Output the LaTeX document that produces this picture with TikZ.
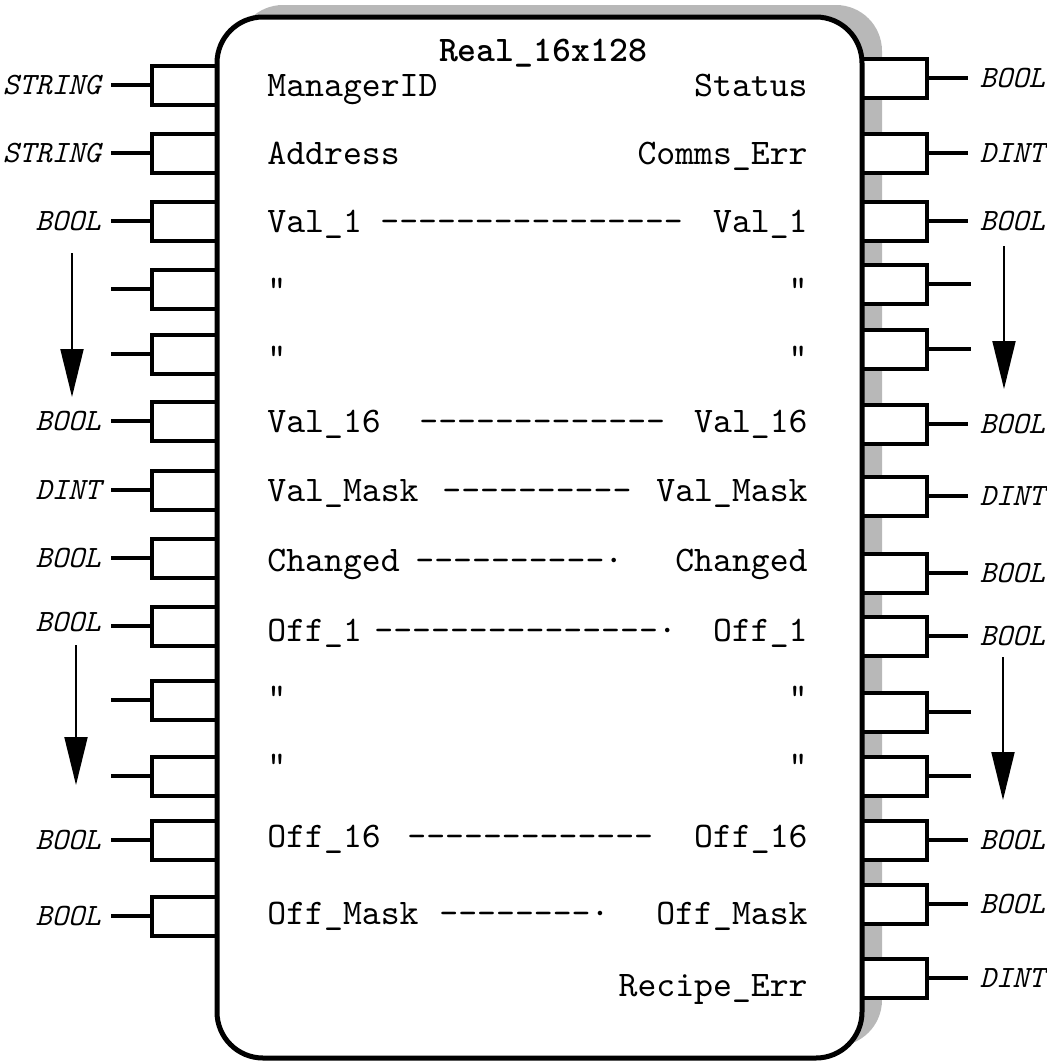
\documentclass[tikz,border=0pt]{standalone}
\usepackage{fontspec}
\setmonofont{lmmono10-regular.otf}[
  ItalicFont=lmmono10-italic.otf,
  BoldFont=lmmonolt10-bold.otf]
\usetikzlibrary{arrows.meta,positioning,shadows}
\tikzset{
  block/.style={
    fill=white,
    rounded corners=23pt,
    minimum width=322.5pt,
    minimum height=520.5pt,
    inner sep=0pt,
    outer sep=0pt,
    drop shadow={shadow xshift=10pt, shadow yshift=6pt, fill=black!28, opacity=1},
  },
  edge/.style={line width=2.5pt, rounded corners=23pt},
  pinbox/.style={draw, line width=2pt, fill=white, inner sep=0pt,
    minimum width=32.5pt, minimum height=19.5pt},
  wire/.style={line width=2pt},
  ltype/.style={font=\ttfamily\itshape\fontsize{15.5}{18}\selectfont,
    inner xsep=5pt, inner ysep=0pt},
  rtype/.style={ltype, inner xsep=6pt},
  sig/.style={font=\ttfamily\fontsize{18}{21}\selectfont, inner sep=0pt},
  lsig/.style={sig, anchor=base west},
  rsig/.style={sig, anchor=base east},
  ttl/.style={font=\ttfamily\bfseries\fontsize{18}{21}\selectfont, inner sep=0pt, anchor=base},
  flow/.style={-{Triangle[length=24pt, width=11.5pt]}, line width=1pt},
}

\begin{document}
\begin{tikzpicture}[x=0.5pt, y=-0.5pt, node distance=19.5pt]
  \useasboundingbox (0,0) rectangle (1046,1061);

  % function block
  \node[block] (blk) at (539.5,537.5) {};

  % input pins
  \node[pinbox] (lp1) at (184.5,85) {};
  \node[pinbox] (lp2) at (184.5,153) {};
  \node[pinbox] (lp3) at (184.5,221) {};
  \node[pinbox] (lp4) at (184.5,289) {};
  \node[pinbox] (lp5) at (184.5,354) {};
  \node[pinbox] (lp6) at (184.5,421) {};
  \node[pinbox] (lp7) at (184.5,490) {};
  \node[pinbox] (lp8) at (184.5,558) {};
  \node[pinbox] (lp9) at (184.5,626) {};
  \node[pinbox] (lp10) at (184.5,700) {};
  \node[pinbox] (lp11) at (184.5,776) {};
  \node[pinbox] (lp12) at (184.5,840) {};
  \node[pinbox] (lp13) at (184.5,916) {};

  % output pins
  \node[pinbox] (rp1) at (894,78) {};
  \node[pinbox] (rp2) at (894,153) {};
  \node[pinbox] (rp3) at (894,221) {};
  \node[pinbox] (rp4) at (894,284) {};
  \node[pinbox] (rp5) at (894,349) {};
  \node[pinbox] (rp6) at (894,424) {};
  \node[pinbox] (rp7) at (894,496) {};
  \node[pinbox] (rp8) at (894,573) {};
  \node[pinbox] (rp9) at (894,636) {};
  \node[pinbox] (rp10) at (894,712) {};
  \node[pinbox] (rp11) at (894,776) {};
  \node[pinbox] (rp12) at (894,840) {};
  \node[pinbox] (rp13) at (894,904) {};
  \node[pinbox] (rp14) at (894,978) {};

  \draw[edge] (blk.north west) rectangle (blk.south east);

  % input types
  \node[ltype, left=of lp1] (lt1) {STRING};
  \node[ltype, left=of lp2] (lt2) {STRING};
  \node[ltype, left=of lp3] (lt3) {BOOL};
  \coordinate[left=of lp4] (lt4);
  \coordinate[left=of lp5] (lt5);
  \node[ltype, left=of lp6] (lt6) {BOOL};
  \node[ltype, left=of lp7] (lt7) {DINT};
  \node[ltype, left=of lp8] (lt8) {BOOL};
  \node[ltype, left=of lp9, yshift=2pt] (lt9) {BOOL};
  \coordinate[left=of lp10] (lt10);
  \coordinate[left=of lp11] (lt11);
  \node[ltype, left=of lp12] (lt12) {BOOL};
  \node[ltype, left=of lp13] (lt13) {BOOL};

  % output types
  \node[rtype, right=of rp1] (rt1) {BOOL};
  \node[rtype, right=of rp2] (rt2) {DINT};
  \node[rtype, right=of rp3] (rt3) {BOOL};
  \coordinate[right=21pt of rp4] (rt4);
  \coordinate[right=21pt of rp5] (rt5);
  \node[rtype, right=of rp6] (rt6) {BOOL};
  \node[rtype, right=of rp7] (rt7) {DINT};
  \node[rtype, right=of rp8] (rt8) {BOOL};
  \node[rtype, right=of rp9] (rt9) {BOOL};
  \coordinate[right=21pt of rp10] (rt10);
  \coordinate[right=21pt of rp11] (rt11);
  \node[rtype, right=of rp12] (rt12) {BOOL};
  \node[rtype, right=of rp13] (rt13) {BOOL};
  \node[rtype, right=of rp14] (rt14) {DINT};

  \draw[wire] (lp1.west) -- (lt1.east |- lp1);
  \draw[wire] (lp2.west) -- (lt2.east |- lp2);
  \draw[wire] (lp3.west) -- (lt3.east |- lp3);
  \draw[wire] (lp4.west) -- (lt4);
  \draw[wire] (lp5.west) -- (lt5);
  \draw[wire] (lp6.west) -- (lt6.east |- lp6);
  \draw[wire] (lp7.west) -- (lt7.east |- lp7);
  \draw[wire] (lp8.west) -- (lt8.east |- lp8);
  \draw[wire] (lp9.west) -- (lt9.east |- lp9);
  \draw[wire] (lp10.west) -- (lt10);
  \draw[wire] (lp11.west) -- (lt11);
  \draw[wire] (lp12.west) -- (lt12.east |- lp12);
  \draw[wire] (lp13.west) -- (lt13.east |- lp13);

  \draw[wire] (rp1.east) -- (rt1.west);
  \draw[wire] (rp2.east) -- (rt2.west);
  \draw[wire] (rp3.east) -- (rt3.west);
  \draw[wire] (rp4.east) -- (rt4);
  \draw[wire] (rp5.east) -- (rt5);
  \draw[wire] (rp6.east) -- (rt6.west);
  \draw[wire] (rp7.east) -- (rt7.west);
  \draw[wire] (rp8.east) -- (rt8.west);
  \draw[wire] (rp9.east) -- (rt9.west);
  \draw[wire] (rp10.east) -- (rt10);
  \draw[wire] (rp11.east) -- (rt11);
  \draw[wire] (rp12.east) -- (rt12.west);
  \draw[wire] (rp13.east) -- (rt13.west);
  \draw[wire] (rp14.east) -- (rt14.west);

  % block texts
  \node[ttl] (name) at (543,61) {Real\_16x128};

  \node[lsig] (mgr) at (267,96) {ManagerID};
  \node[lsig] (addr) at (267,164) {Address};
  \node[lsig] (vin1) at (267,232) {Val\_1};
  \node[lsig] (vinq1) at (267,300) {"};
  \node[lsig] (vinq2) at (267,368) {"};
  \node[lsig] (vin16) at (267,432) {Val\_16};
  \node[lsig] (vinm) at (267,501) {Val\_Mask};
  \node[lsig] (chin) at (267,571) {Changed};
  \node[lsig] (oin1) at (267,641) {Off\_1};
  \node[lsig] (oinq1) at (267,708) {"};
  \node[lsig] (oinq2) at (267,776) {"};
  \node[lsig] (oin16) at (267,847) {Off\_16};
  \node[lsig] (oinm) at (267,924) {Off\_Mask};

  \node[rsig] (sts) at (808,96) {Status};
  \node[rsig] (cerr) at (808,164) {Comms\_Err};
  \node[rsig] (vout1) at (808,232) {Val\_1};
  \node[rsig] (voutq1) at (808,300) {"};
  \node[rsig] (voutq2) at (808,368) {"};
  \node[rsig] (vout16) at (808,432) {Val\_16};
  \node[rsig] (voutm) at (808,501) {Val\_Mask};
  \node[rsig] (chout) at (808,571) {Changed};
  \node[rsig] (oout1) at (808,641) {Off\_1};
  \node[rsig] (ooutq1) at (808,708) {"};
  \node[rsig] (ooutq2) at (808,776) {"};
  \node[rsig] (oout16) at (808,847) {Off\_16};
  \node[rsig] (ooutm) at (808,924) {Off\_Mask};
  \node[rsig] (rerr) at (808,996) {Recipe\_Err};

  % dashed links
  \node[lsig] (dv1) at (380,232) {----------------};
  \node[lsig] (dv16) at (419,432) {-------------};
  \node[lsig] (dvm) at (442,501) {----------};
  \node[lsig] (dch) at (415,571) {----------·};
  \node[lsig] (do1) at (374,641) {---------------·};
  \node[lsig] (do16) at (407,847) {-------------};
  \node[lsig] (dom) at (439,924) {--------·};

  % repeat arrows
  \coordinate (la1) at (72,253);
  \coordinate (lb1) at (72,397);
  \coordinate (la2) at (76,645);
  \coordinate (lb2) at (76,785);
  \coordinate (ra1) at (1004,246);
  \coordinate (rb1) at (1004,389);
  \coordinate (ra2) at (1003,657);
  \coordinate (rb2) at (1003,800);
  \draw[flow] (la1) -- (lb1);
  \draw[flow] (la2) -- (lb2);
  \draw[flow] (ra1) -- (rb1);
  \draw[flow] (ra2) -- (rb2);
\end{tikzpicture}
\end{document}
